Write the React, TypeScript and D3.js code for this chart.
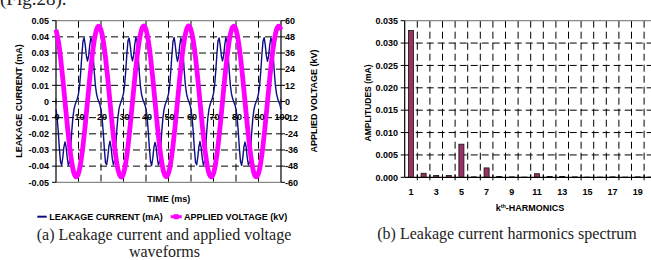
import React from "react";
import * as d3 from "d3";

// ---------- Data: (a) waveforms ----------
const currentStepMs = 0.5;
const leakageCurrent = [
  -0.0048,-0.0100,-0.0186,-0.0290,-0.0373,-0.0394,-0.0349,-0.0282,-0.0250,-0.0282,
  -0.0349,-0.0394,-0.0373,-0.0290,-0.0186,-0.0100,-0.0048,-0.0019,0.0000,0.0019,
  0.0048,0.0100,0.0186,0.0290,0.0373,0.0394,0.0349,0.0282,0.0250,0.0282,
  0.0349,0.0394,0.0373,0.0290,0.0186,0.0100,0.0048,0.0019,0.0000,-0.0019,
  -0.0050,-0.0104,-0.0190,-0.0295,-0.0378,-0.0390,-0.0345,-0.0278,-0.0246,-0.0285,
  -0.0352,-0.0390,-0.0370,-0.0286,-0.0182,-0.0098,-0.0046,-0.0018,0.0002,0.0021,
  0.0050,0.0104,0.0190,0.0294,0.0377,0.0392,0.0346,0.0280,0.0252,0.0285,
  0.0352,0.0397,0.0375,0.0288,0.0183,0.0098,0.0046,0.0017,-0.0002,-0.0021,
  -0.0046,-0.0098,-0.0184,-0.0288,-0.0370,-0.0396,-0.0352,-0.0285,-0.0253,-0.0280,
  -0.0346,-0.0392,-0.0376,-0.0293,-0.0188,-0.0102,-0.0050,-0.0020,-0.0001,0.0018,
  0.0047,0.0098,0.0184,0.0288,0.0371,0.0396,0.0351,0.0284,0.0248,0.0280,
  0.0347,0.0392,0.0371,0.0292,0.0188,0.0102,0.0050,0.0020,0.0001,-0.0018,
  -0.0049,-0.0102,-0.0188,-0.0292,-0.0375,-0.0392,-0.0347,-0.0280,-0.0248,-0.0284,
  -0.0350,-0.0393,-0.0372,-0.0288,-0.0184,-0.0099,-0.0047,-0.0019,0.0001,0.0020,
  0.0049,0.0102,0.0188,0.0292,0.0375,0.0393,0.0348,0.0281,0.0251,0.0283,
  0.0350,0.0395,0.0374,0.0289,0.0185,0.0099,0.0047,0.0018,-0.0001,-0.0020,
  -0.0047,-0.0099,-0.0185,-0.0289,-0.0372,-0.0395,-0.0350,-0.0283,-0.0251,-0.0281,
  -0.0348,-0.0393,-0.0374,-0.0291,-0.0187,-0.0101,-0.0049,-0.0019,0.0000,0.0019,
  0.0048,0.0099,0.0185,0.0289,0.0372,0.0395,0.0350,0.0283,0.0249,0.0281,
  0.0348,0.0393,0.0372,0.0291,0.0187,0.0101,0.0049,0.0019,0.0000,-0.0019,
  -0.0048,
];

const voltageStepMs = 1;
const appliedVoltage = [
  53.3,45.3,32.9,17.3,0.0,-17.3,-32.9,-45.3,-53.3,-56.0,-53.3,-45.3,-32.9,-17.3,0.0,17.3,32.9,45.3,53.3,56.0,
  53.1,45.0,32.6,17.0,-0.3,-17.6,-33.1,-45.5,-53.4,-56.2,-53.5,-45.6,-33.2,-17.5,-0.2,17.1,32.7,45.1,53.2,56.1,
  53.4,45.4,33.0,17.4,0.1,-17.2,-32.8,-45.2,-53.2,-55.9,-53.2,-45.2,-32.8,-17.2,0.1,17.4,33.0,45.4,53.4,56.1,
  53.2,45.2,32.8,17.2,-0.1,-17.4,-33.0,-45.4,-53.4,-56.1,-53.4,-45.4,-33.0,-17.4,-0.1,17.2,32.8,45.2,53.2,56.0,
  53.3,45.3,32.9,17.3,0.0,-17.3,-32.9,-45.3,-53.3,-56.0,-53.3,-45.3,-32.9,-17.3,0.0,17.3,32.9,45.3,53.3,56.0,
  53.3,
];

const timeTicks = [0, 10, 20, 30, 40, 50, 60, 70, 80, 90, 100];
const currentTicks = [0.05, 0.04, 0.03, 0.02, 0.01, 0, -0.01, -0.02, -0.03, -0.04, -0.05];
const currentTickLabels = ["0.05", "0.04", "0.03", "0.02", "0.01", "0", "-0.01", "-0.02", "-0.03", "-0.04", "-0.05"];
const voltageTicks = [60, 48, 36, 24, 12, 0, -12, -24, -36, -48, -60];

// ---------- Data: (b) harmonics ----------
const harmonics = [1, 2, 3, 4, 5, 6, 7, 8, 9, 10, 11, 12, 13, 14, 15, 16, 17, 18, 19, 20];
const amplitudes = [
  0.0328, 0.0009, 0.0004, 0.0004, 0.0074, 0.0001, 0.0021, 0.0002, 0.0001, 0.00005,
  0.0008, 0.0002, 0.0002, 0.0001, 0.00005, 0.00005, 0.0001, 0.00005, 0.0001, 0.00005,
];
const ampTicks = [0, 0.005, 0.01, 0.015, 0.02, 0.025, 0.03, 0.035];
const harmonicLabels = [1, 3, 5, 7, 9, 11, 13, 15, 17, 19];

const SANS = "'Liberation Sans', Arial, sans-serif";
const SERIF = "'Liberation Serif', 'Times New Roman', serif";
const BLUE = "#0d0d85";
const MAGENTA = "#ff00ff";
const BAR = "#993366";

export default function App() {
  // left chart scales
  const xT = d3.scaleLinear().domain([0, 100]).range([56, 281]);
  const yI = d3.scaleLinear().domain([-0.05, 0.05]).range([182.3, 20.7]);
  const yV = d3.scaleLinear().domain([-60, 60]).range([182.3, 20.7]);

  const currentLine = d3
    .line<number>()
    .x((_, i) => xT(i * currentStepMs))
    .y((d) => yI(d));
  const voltageLine = d3
    .line<number>()
    .x((_, i) => xT(i * voltageStepMs))
    .y((d) => yV(d))
    .curve(d3.curveNatural);

  // right chart scales
  const xH = d3
    .scaleBand<number>()
    .domain(harmonics)
    .range([404.7, 656.7])
    .paddingInner(0.6)
    .paddingOuter(0.3);
  const step = xH.step();
  const x0 = 404.7;
  const yA = d3.scaleLinear().domain([0, 0.035]).range([177.3, 20.7]);

  const dash = "7,4";

  return (
    <svg
      width={651}
      height={260}
      style={{ position: "absolute", left: 0, top: 0, background: "#fff", display: "block" }}
    >
      <rect x={0} y={0} width={651} height={260} fill="#fff" />
      <text x={0} y={5} fontFamily={SERIF} fontSize={19} fill="#222">
        (Fig.28).
      </text>

      {/* ================= (a) ================= */}
      <g>
        {/* grid */}
        {currentTicks
          .filter((t) => t !== 0 && t !== 0.05 && t !== -0.05)
          .map((t) => (
            <line key={"hg" + t} x1={xT(0)} x2={xT(100)} y1={yI(t)} y2={yI(t)} stroke="#000" strokeWidth={1} strokeDasharray={dash} />
          ))}
        {timeTicks
          .filter((t) => t !== 0 && t !== 100)
          .map((t) => (
            <line key={"vg" + t} x1={xT(t)} x2={xT(t)} y1={yI(0.05)} y2={yI(-0.05)} stroke="#000" strokeWidth={1} strokeDasharray={dash} />
          ))}
        {/* frame */}
        <line x1={xT(0)} x2={xT(100)} y1={yI(0.05)} y2={yI(0.05)} stroke="#888" strokeWidth={1.2} />
        <line x1={xT(0)} x2={xT(100)} y1={yI(-0.05)} y2={yI(-0.05)} stroke="#888" strokeWidth={1.2} />
        <line x1={xT(0)} x2={xT(100)} y1={yI(0)} y2={yI(0)} stroke="#444" strokeWidth={1.2} />
        {timeTicks.map((t) => (
          <line key={"xt" + t} x1={xT(t)} x2={xT(t)} y1={yI(0) - 3} y2={yI(0) + 3} stroke="#444" strokeWidth={1} />
        ))}
        <line x1={xT(0)} x2={xT(0)} y1={yI(0.05)} y2={yI(-0.05)} stroke="#000" strokeWidth={1.2} />
        <line x1={xT(100)} x2={xT(100)} y1={yI(0.05)} y2={yI(-0.05)} stroke="#000" strokeWidth={1.2} />
        {currentTicks.map((t, i) => (
          <g key={"yl" + t}>
            <line x1={xT(0) - 4} x2={xT(0)} y1={yI(t)} y2={yI(t)} stroke="#000" strokeWidth={1} />
            <text x={49} y={yI(t) + 3.2} textAnchor="end" fontFamily={SANS} fontWeight="bold" fontSize={9} fill="#000">
              {currentTickLabels[i]}
            </text>
          </g>
        ))}
        {voltageTicks.map((t) => (
          <g key={"yr" + t}>
            <line x1={xT(100)} x2={xT(100) + 4} y1={yV(t)} y2={yV(t)} stroke="#000" strokeWidth={1} />
            <text x={285} y={yV(t) + 3.2} textAnchor="start" fontFamily={SANS} fontWeight="bold" fontSize={9} fill="#000">
              {t}
            </text>
          </g>
        ))}

        {/* series */}
        <path d={currentLine(leakageCurrent) || ""} fill="none" stroke={BLUE} strokeWidth={1.4} strokeLinejoin="round" />
        <path d={voltageLine(appliedVoltage) || ""} fill="none" stroke={MAGENTA} strokeWidth={4.8} strokeLinejoin="round" />

        {/* x tick labels at zero line */}
        {timeTicks.map((t) => (
          <text key={"xl" + t} x={xT(t) + 1} y={119.5} textAnchor="middle" fontFamily={SANS} fontWeight="bold" fontSize={9} fill="#000">
            {t}
          </text>
        ))}

        {/* titles */}
        <text transform="translate(21.6,101) rotate(-90)" textAnchor="middle" fontFamily={SANS} fontWeight="bold" fontSize={9} fill="#000">
          LEAKAGE CURRENT (mA)
        </text>
        <text transform="translate(317.3,101) rotate(-90)" textAnchor="middle" fontFamily={SANS} fontWeight="bold" fontSize={9} fill="#000">
          APPLIED VOLTAGE (kV)
        </text>
        <text x={168.7} y={201.5} textAnchor="middle" fontFamily={SANS} fontWeight="bold" fontSize={9} fill="#000">
          TIME (ms)
        </text>

        {/* legend */}
        <line x1={37.3} x2={46.7} y1={216.7} y2={216.7} stroke={BLUE} strokeWidth={2} />
        <text x={49.3} y={219.9} fontFamily={SANS} fontWeight="bold" fontSize={9} fill="#000">
          LEAKAGE CURRENT (mA)
        </text>
        <line x1={170.7} x2={181.7} y1={216.7} y2={216.7} stroke={MAGENTA} strokeWidth={3} />
        <rect x={173.7} y={214.2} width={5} height={5} fill={MAGENTA} />
        <text x={184} y={219.9} fontFamily={SANS} fontWeight="bold" fontSize={9} fill="#000">
          APPLIED VOLTAGE (kV)
        </text>

        {/* caption */}
        <text x={164} y={239.5} textAnchor="middle" fontFamily={SERIF} fontSize={16} fill="#222">
          (a) Leakage current and applied voltage
        </text>
        <text x={164.5} y={256.5} textAnchor="middle" fontFamily={SERIF} fontSize={16} fill="#222">
          waveforms
        </text>
      </g>

      {/* ================= (b) ================= */}
      <g>
        {ampTicks
          .filter((t) => t !== 0 && t !== 0.035)
          .map((t) => (
            <line key={"bh" + t} x1={x0} x2={651} y1={yA(t)} y2={yA(t)} stroke="#000" strokeWidth={1} strokeDasharray={dash} />
          ))}
        {harmonics.slice(1).map((h) => (
          <line
            key={"bv" + h}
            x1={x0 + (h - 1) * step}
            x2={x0 + (h - 1) * step}
            y1={yA(0.035)}
            y2={yA(0)}
            stroke="#000"
            strokeWidth={1}
            strokeDasharray={dash}
          />
        ))}
        <line x1={x0} x2={651} y1={yA(0.035)} y2={yA(0.035)} stroke="#888" strokeWidth={1.2} />

        {harmonics.map((h, i) => (
          <rect
            key={"bar" + h}
            x={xH(h)}
            y={yA(amplitudes[i])}
            width={xH.bandwidth()}
            height={yA(0) - yA(amplitudes[i])}
            fill={BAR}
            stroke="#111"
            strokeWidth={0.8}
          />
        ))}

        <line x1={x0} x2={651} y1={yA(0)} y2={yA(0)} stroke="#000" strokeWidth={1.2} />
        {harmonics.map((h) => (
          <line key={"bt" + h} x1={x0 + h * step} x2={x0 + h * step} y1={yA(0) - 3} y2={yA(0) + 3} stroke="#000" strokeWidth={1} />
        ))}
        <line x1={x0} x2={x0} y1={yA(0.035)} y2={yA(0)} stroke="#000" strokeWidth={1.2} />
        {ampTicks.map((t) => (
          <g key={"by" + t}>
            <line x1={x0 - 4} x2={x0} y1={yA(t)} y2={yA(t)} stroke="#000" strokeWidth={1} />
            <text x={398} y={yA(t) + 3.2} textAnchor="end" fontFamily={SANS} fontWeight="bold" fontSize={9} fill="#000">
              {t.toFixed(3)}
            </text>
          </g>
        ))}
        {harmonicLabels.map((h) => (
          <text
            key={"bx" + h}
            x={(xH(h) as number) + xH.bandwidth() / 2}
            y={194.5}
            textAnchor="middle"
            fontFamily={SANS}
            fontWeight="bold"
            fontSize={9}
            fill="#000"
          >
            {h}
          </text>
        ))}
        <text x={530} y={211} textAnchor="middle" fontFamily={SANS} fontWeight="bold" fontSize={9} fill="#000">
          k<tspan fontSize={5.5} dy={-3.5}>th</tspan>
          <tspan dy={3.5}>-HARMONICS</tspan>
        </text>
        <text transform="translate(370.8,103) rotate(-90)" textAnchor="middle" fontFamily={SANS} fontWeight="bold" fontSize={8.5} fill="#000">
          AMPLITUDES (mA)
        </text>
        <text x={507} y={238.5} textAnchor="middle" fontFamily={SERIF} fontSize={16} fill="#222">
          (b) Leakage current harmonics spectrum
        </text>
      </g>
    </svg>
  );
}
